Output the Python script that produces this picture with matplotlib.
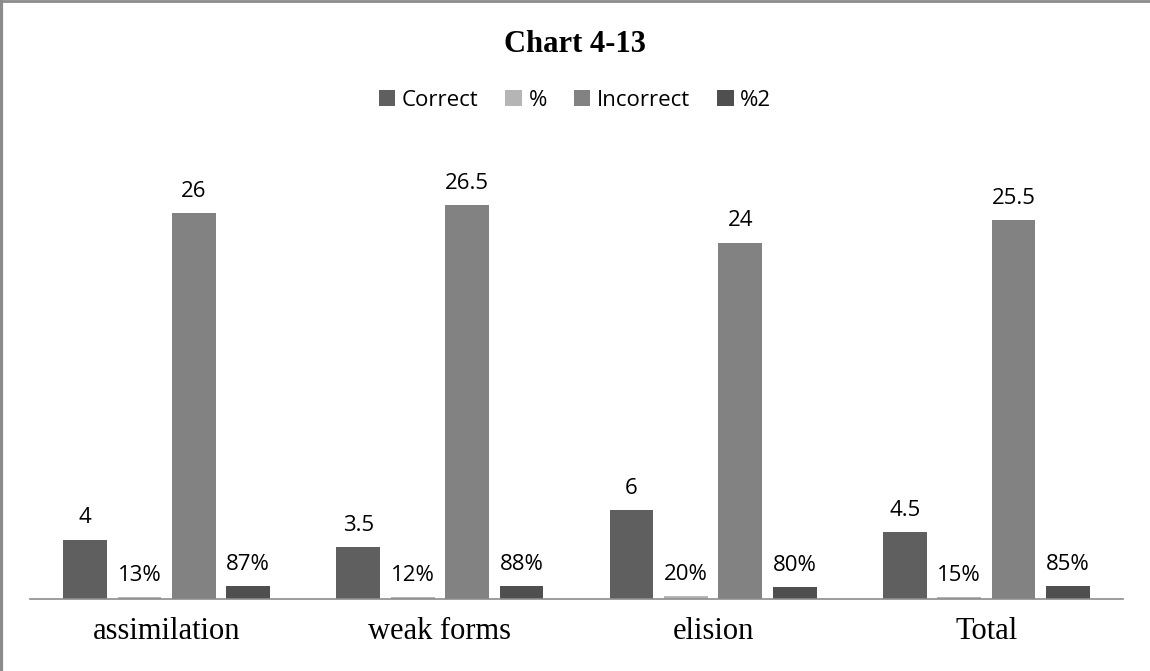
import matplotlib.pyplot as plt
import numpy as np

# data
categories = ['assimilation', 'weak forms', 'elision', 'Total']
series_names = ['Correct', '%', 'Incorrect', '%2']
correct = [4, 3.5, 6, 4.5]
pct = [0.13, 0.12, 0.20, 0.15]
incorrect = [26, 26.5, 24, 25.5]
pct2 = [0.87, 0.88, 0.80, 0.85]
correct_labels = ['4', '3.5', '6', '4.5']
pct_labels = ['13%', '12%', '20%', '15%']
incorrect_labels = ['26', '26.5', '24', '25.5']
pct2_labels = ['87%', '88%', '80%', '85%']

colors = ['#5f5f5f', '#b5b5b5', '#828282', '#4f4f4f']

fig = plt.figure(figsize=(11.5, 6.71), dpi=100)
ax = fig.add_axes([30 / 1150, 72 / 671, 1093 / 1150, (599 - 140) / 671])

x = np.arange(len(categories))
width = 0.16
step = 0.199
series = [correct, pct, incorrect, pct2]
labels = [correct_labels, pct_labels, incorrect_labels, pct2_labels]

for i, (vals, labs) in enumerate(zip(series, labels)):
    pos = x + (i - 1.5) * step
    bars = ax.bar(pos, vals, width, color=colors[i], label=series_names[i])
    for b, lab in zip(bars, labs):
        ax.annotate(lab, (b.get_x() + b.get_width() / 2, b.get_height()),
                    xytext=(0, 8), textcoords='offset points',
                    ha='center', va='bottom', fontsize=16,
                    family='Open Sans', color='black')

ax.set_xlim(-0.5, 3.5)
ax.set_ylim(0, (599 - 140) / 14.85)
ax.set_yticks([])
ax.set_xticks(x)
ax.set_xticklabels(categories, fontsize=22, family='Liberation Serif')
ax.tick_params(axis='x', length=0, pad=13)
for s in ['top', 'right', 'left']:
    ax.spines[s].set_visible(False)
ax.spines['bottom'].set_color('#8c8c8c')
ax.spines['bottom'].set_linewidth(1.2)

fig.text(0.5, 1 - 45 / 671, 'Chart 4-13', ha='center', va='center',
         fontsize=22, fontweight='bold', family='Liberation Serif')

fig.legend(loc='center', bbox_to_anchor=(0.5, 1 - 100 / 671), ncol=4,
           frameon=False, prop={'family': 'Open Sans', 'size': 16},
           handlelength=0.75, handleheight=0.75, handletextpad=0.3,
           columnspacing=1.2)

# border on top and left edges
fig.add_artist(plt.Line2D([0, 1], [0.999, 0.999], transform=fig.transFigure,
                          color='#8c8c8c', linewidth=2))
fig.add_artist(plt.Line2D([0.001, 0.001], [0, 1], transform=fig.transFigure,
                          color='#8c8c8c', linewidth=3))

plt.savefig('out.png', dpi=100)
plt.close()
